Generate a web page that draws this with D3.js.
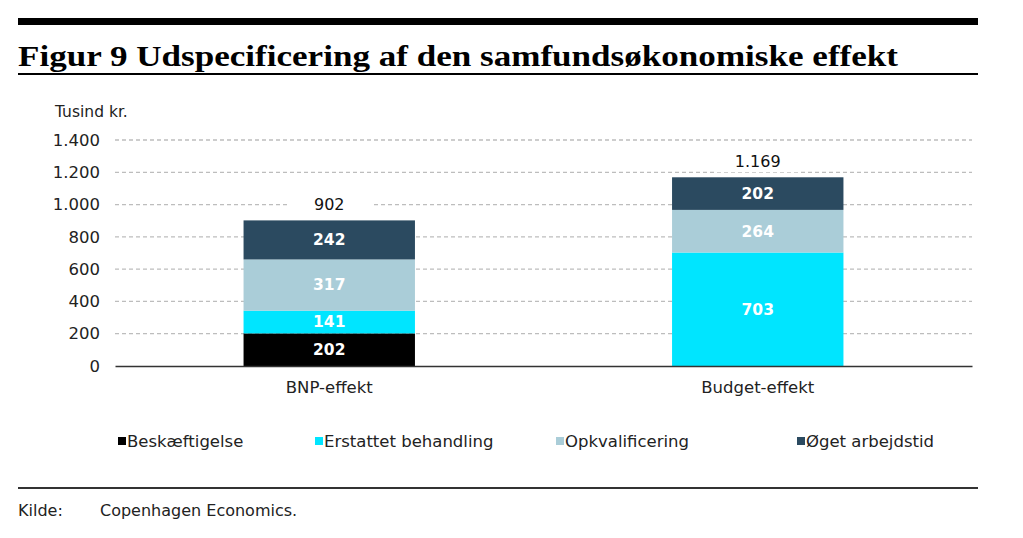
<!DOCTYPE html>
<html><head><meta charset="utf-8">
<script src="https://cdn.jsdelivr.net/npm/d3@7"></script>
<style>body{margin:0;background:#fff;} svg{display:block;}</style>
</head><body>
<svg id="c" width="1023" height="538"></svg>
<script>
const categories = ["BNP-effekt", "Budget-effekt"];
const seriesNames = ["Beskæftigelse", "Erstattet behandling", "Opkvalificering", "Øget arbejdstid"];
const beskaeftigelse = [202, 0];
const erstattet = [141, 703];
const opkvalificering = [317, 264];
const oget = [242, 202];
const totals = [902, 1169];
const yTicks = [0, 200, 400, 600, 800, 1000, 1200, 1400];
const colors = ["#000000", "#00e5ff", "#aacdd8", "#2b4a60"];

const svg = d3.select("#c");
const font = "'DejaVu Sans', Verdana, sans-serif";
const fmt = v => d3.format(",")(v).replace(/,/g, ".");

// header
svg.append("rect").attr("x", 18).attr("y", 18).attr("width", 960).attr("height", 7).attr("fill", "#000");
svg.append("text").attr("x", 18).attr("y", 66)
  .attr("font-family", "'Liberation Serif', 'Times New Roman', serif").attr("font-weight", "bold")
  .attr("font-size", 29).attr("textLength", 880).attr("lengthAdjust", "spacingAndGlyphs")
  .text("Figur 9 Udspecificering af den samfundsøkonomiske effekt");
svg.append("rect").attr("x", 18).attr("y", 73).attr("width", 960).attr("height", 2).attr("fill", "#000");

svg.append("text").attr("x", 55).attr("y", 117).attr("font-family", font).attr("font-size", 15.5)
  .attr("fill", "#222").text("Tusind kr.");

const x = d3.scaleBand().domain(categories).range([115, 972]).paddingInner(0.6).paddingOuter(0.3);
const y = d3.scaleLinear().domain([0, 1400]).range([366, 140]);

// gridlines
svg.append("g").selectAll("line").data(yTicks.filter(d => d > 0)).join("line")
  .attr("x1", 115).attr("x2", 972).attr("y1", d => y(d)).attr("y2", d => y(d))
  .attr("stroke", "#bdbdbd").attr("stroke-width", 1.3).attr("stroke-dasharray", "4,3");

// y axis
const yAxis = d3.axisLeft(y).tickValues(yTicks).tickSize(0).tickPadding(0).tickFormat(fmt);
const ya = svg.append("g").attr("transform", "translate(100,0)").call(yAxis);
ya.select(".domain").remove();
ya.selectAll("text").attr("font-family", font).attr("font-size", 16.5).attr("fill", "#222");

// stacks
const data = categories.map((c, i) => ({cat: c, s0: beskaeftigelse[i], s1: erstattet[i], s2: opkvalificering[i], s3: oget[i]}));
const stack = d3.stack().keys(["s0", "s1", "s2", "s3"])(data);
const g = svg.append("g");
stack.forEach((layer, li) => {
  layer.forEach(d => {
    const h = y(d[0]) - y(d[1]);
    if (h <= 0) return;
    g.append("rect").attr("x", x(d.data.cat)).attr("width", x.bandwidth())
      .attr("y", y(d[1])).attr("height", h).attr("fill", colors[li]);
    g.append("text").attr("x", x(d.data.cat) + x.bandwidth() / 2).attr("y", (y(d[0]) + y(d[1])) / 2)
      .attr("dy", "0.35em").attr("text-anchor", "middle").attr("font-family", font)
      .attr("font-size", 15.5).attr("font-weight", "bold").attr("fill", "#fff")
      .text(fmt(d[1] - d[0]));
  });
});

// totals with white background
categories.forEach((c, i) => {
  const cx = x(c) + x.bandwidth() / 2, cy = y(totals[i]) - 16;
  svg.append("rect").attr("x", cx - 42).attr("y", cy - 11).attr("width", 84).attr("height", 22).attr("fill", "#fff");
  svg.append("text").attr("x", cx).attr("y", cy).attr("dy", "0.35em").attr("text-anchor", "middle")
    .attr("font-family", font).attr("font-size", 16).attr("fill", "#111").text(fmt(totals[i]));
});

// x axis
const xAxis = d3.axisBottom(x).tickSize(0).tickPadding(15);
const xa = svg.append("g").attr("transform", "translate(0,366)").call(xAxis);
xa.select(".domain").attr("stroke", "#333").attr("stroke-width", 1.5);
xa.selectAll("text").attr("font-family", font).attr("font-size", 16.5).attr("fill", "#222");

// legend
const legX = [118, 315, 556, 797];
seriesNames.forEach((n, i) => {
  svg.append("rect").attr("x", legX[i]).attr("y", 437).attr("width", 8).attr("height", 8).attr("fill", colors[i]);
  svg.append("text").attr("x", legX[i] + 9).attr("y", 441).attr("dy", "0.35em")
    .attr("font-family", font).attr("font-size", 16.5).attr("fill", "#222").text(n);
});

// footer
svg.append("rect").attr("x", 18).attr("y", 487).attr("width", 960).attr("height", 2).attr("fill", "#333");
svg.append("text").attr("x", 18).attr("y", 516).attr("font-family", font).attr("font-size", 16).attr("fill", "#222").text("Kilde:");
svg.append("text").attr("x", 100).attr("y", 516).attr("font-family", font).attr("font-size", 16).attr("fill", "#222").text("Copenhagen Economics.");
</script>
</body></html>
